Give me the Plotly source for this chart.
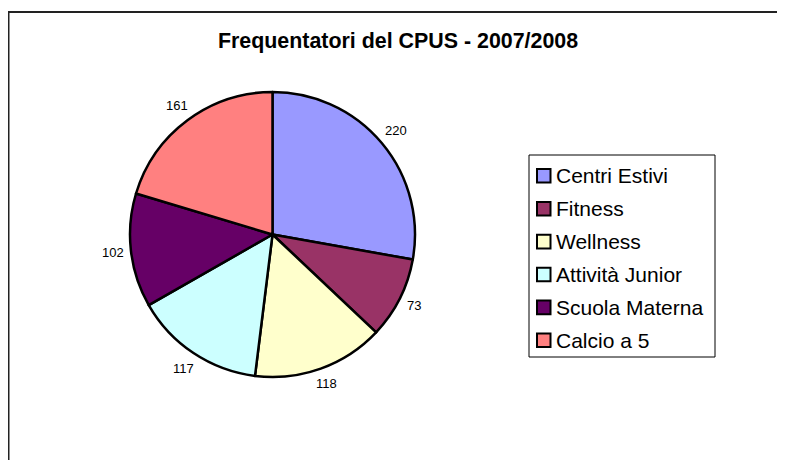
import math
import plotly.graph_objects as go

categories = ["Centri Estivi", "Fitness", "Wellness", "Attività Junior", "Scuola Materna", "Calcio a 5"]
values = [220, 73, 118, 117, 102, 161]
colors = ["#9999FF", "#993366", "#FFFFCC", "#CCFFFF", "#660066", "#FF8080"]
title_text = "Frequentatori del CPUS - 2007/2008"

# The page body has an 8px margin, so the figure is sized to fill the rest
OFF = 8
PW, PH = 785, 460
W, H = PW - OFF, PH - OFF
FONT = "Liberation Sans, Arial, sans-serif"


def fx(xp):
    return (xp - OFF) / W


def fy(yp):
    return 1 - (yp - OFF) / H


cx, cy, r = 272.5, 234.5, 142.5  # page pixels

fig = go.Figure(go.Pie(
    labels=categories,
    values=values,
    sort=False,
    direction="clockwise",
    rotation=0,
    marker=dict(colors=colors, line=dict(color="#000000", width=2.5)),
    textinfo="none",
    hoverinfo="label+value",
    showlegend=False,
    domain=dict(x=[fx(cx - r), fx(cx + r)], y=[fy(cy + r), fy(cy - r)]),
))

annotations = []
shapes = []

# outer chart border
shapes.append(dict(
    type="rect", xref="paper", yref="paper",
    x0=fx(8.5), x1=1.05, y0=-0.05, y1=fy(12),
    line=dict(color="#222222", width=2), fillcolor="rgba(0,0,0,0)", layer="below",
))

# value labels outside each slice, from the slice mid-angles
LFS = 13
total = sum(values)
cum = 0
for v in values:
    mid = (cum + v / 2) / total * 2 * math.pi
    cum += v
    s, c = math.sin(mid), -math.cos(mid)
    hw = len(str(v)) * 0.556 * LFS / 2
    hh = 6
    d = r + 7 + abs(s) * hw + abs(c) * hh
    annotations.append(dict(
        x=fx(cx + d * s), y=fy(cy + d * c), xref="paper", yref="paper",
        text=str(v), showarrow=False, xanchor="center", yanchor="middle",
        font=dict(family=FONT, size=LFS, color="#000000"),
    ))

# legend drawn from the categories
lx0, lx1, ly0, ly1 = 529, 715, 155, 357
shapes.append(dict(
    type="rect", xref="paper", yref="paper",
    x0=fx(lx0), x1=fx(lx1), y0=fy(ly1), y1=fy(ly0),
    line=dict(color="#000000", width=1), fillcolor="#FFFFFF",
))
step = 32.9
for i, (cat, col) in enumerate(zip(categories, colors)):
    yc = 175.8 + i * step
    shapes.append(dict(
        type="rect", xref="paper", yref="paper",
        x0=fx(537), x1=fx(550.5), y0=fy(yc + 6.8), y1=fy(yc - 6.8),
        line=dict(color="#000000", width=2), fillcolor=col,
    ))
    annotations.append(dict(
        x=fx(553.5), y=fy(yc), xref="paper", yref="paper",
        text=cat, showarrow=False, xanchor="left", yanchor="middle",
        font=dict(family=FONT, size=21, color="#000000"),
    ))

fig.update_layout(
    width=W, height=H,
    margin=dict(l=0, r=0, t=0, b=0),
    paper_bgcolor="#FFFFFF",
    plot_bgcolor="#FFFFFF",
    title=dict(
        text=f"<b>{title_text}</b>",
        x=fx(398), xanchor="center",
        y=fy(40.5), yanchor="middle",
        font=dict(family=FONT, size=21.4, color="#000000"),
    ),
    annotations=annotations,
    shapes=shapes,
)

fig.write_html("out.html")
